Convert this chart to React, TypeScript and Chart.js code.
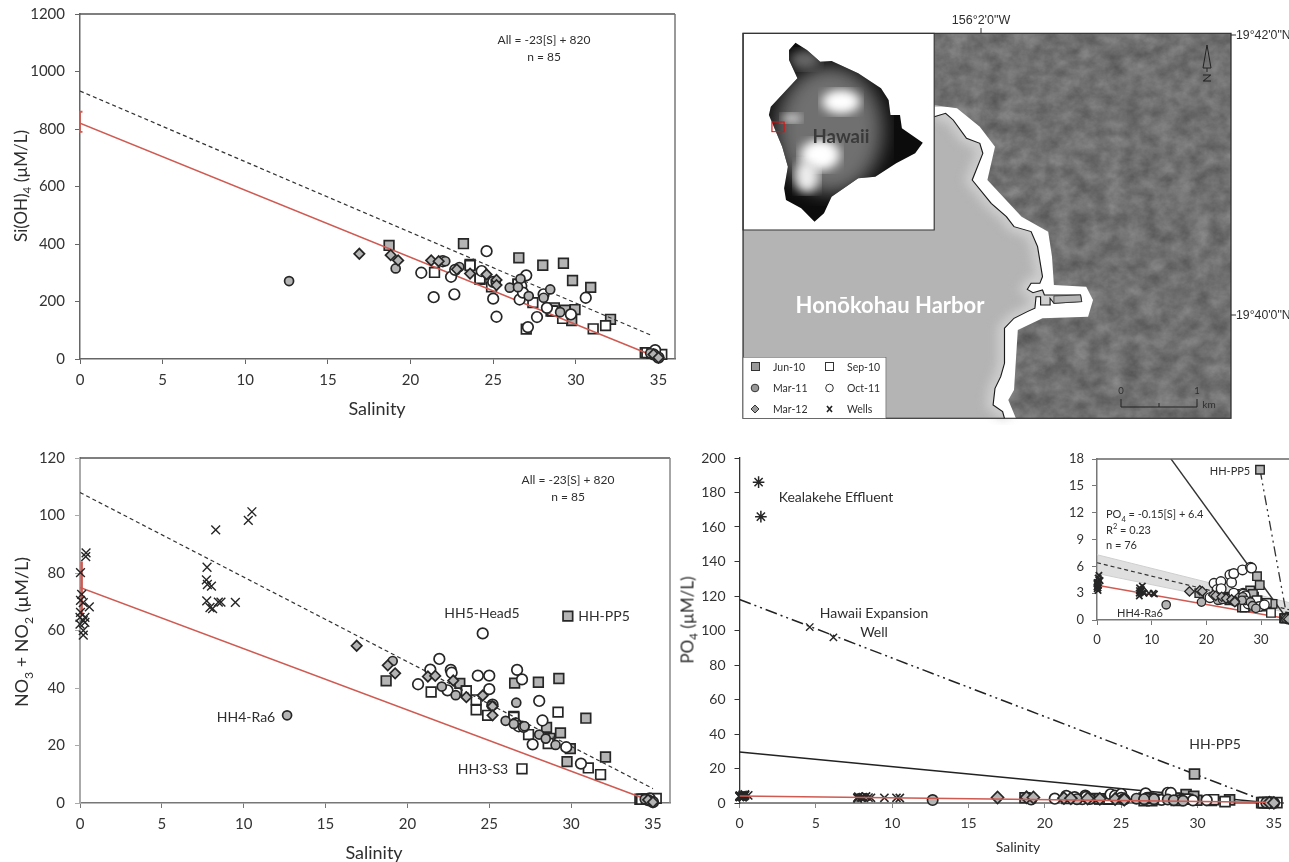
import React, { useEffect, useRef } from "react";
import { Chart, registerables } from "chart.js";

Chart.register(...registerables);

// ---------- samples ----------
const jun10Sal = [18.7, 23.2, 23.6, 26.55, 28.0, 29.25, 29.8, 30.9, 32.1, 29.95, 29.75, 28.7, 28.5, 29.35, 26.5, 34.2, 34.4];
const jun10Si = [395, 401, 329, 352, 326, 333, 273, 249, 138, 172, 134, 178, 167, 170, 260, 22, 22];
const jun10No = [42.5, 41.6, 39, 41.7, 42, 43.3, 65, 29.5, 16, 18.9, 14.4, 22.5, 26.3, 24.4, 30.1, 1.3, 1.3];
const jun10Po = [3, 2.6, 2.5, 2.3, 3.3, 4.9, 16.8, 1.5, 1.8, 1.6, 3.9, 2.6, 2.9, 2.2, 1.4, 0.2, 0.2];

const sep10Sal = [21.45, 24.2, 23.6, 24.9, 24.2, 27.4, 27, 29.2, 31.05, 31.8, 28.6, 26.5, 35.2, 34.3, 34.6];
const sep10Si = [301, 277, 325, 251, 280, 196, 104, 141, 105, 116, 167, 260, 16, 22, 20];
const sep10No = [38.6, 35.9, 39, 30.5, 32.4, 23.8, 11.9, 31.6, 12.2, 9.9, 20.7, 29.8, 1.6, 1.3, 1.4];
const sep10Po = [2.6, 2.2, 2.4, 2.3, 2.4, 2.1, 1.4, 2.2, 1.9, 0.8, 1.5, 2.9, 0.2, 0.2, 0.2];

const mar11Sal = [12.65, 19.1, 22.1, 22.95, 26.0, 26.65, 27.15, 28.05, 28.45, 29.05, 26.5, 25.15, 34.5];
const mar11Si = [271, 315, 340, 320, 248, 279, 219, 213, 242, 163, 250, 268, 20];
const mar11No = [30.5, 49.4, 40.5, 37.5, 28.6, 34.9, 26.7, 23.8, 22.4, 20.2, 27.5, 33.9, 1.3];
const mar11Po = [1.7, 2, 2.2, 2.3, 2.5, 2.6, 2.2, 2, 1.6, 1.3, 2.2, 2.1, 0.2];

const mar12Sal = [16.9, 18.8, 19.25, 21.25, 21.7, 22.8, 23.6, 24.6, 25.2, 25.2, 34.7, 35.0];
const mar12Si = [366, 361, 343, 343, 340, 312, 297, 294, 275, 257, 16, 5];
const mar12No = [54.7, 47.9, 45.1, 44, 44.2, 42.6, 36.8, 37.4, 33.6, 30.5, 1.1, 0.3];
const mar12Po = [3.2, 3.3, 3.2, 2.8, 2.7, 2.6, 2.4, 2.3, 2.1, 2, 0.2, 0.1];

const oct11Sal = [20.65, 21.4, 21.95, 22.45, 22.65, 22.7, 24.3, 24.6, 25, 25, 25.2, 26.6, 26.7, 26.8, 27, 27.1, 27.65, 28.05, 28.25, 29.7, 30.6, 34.8, 35, 34.7];
const oct11Si = [300, 215, 340, 286, 225, 310, 306, 375, 210, 268, 147, 207, 254, 231, 291, 111, 146, 225, 178, 155, 213, 31, 5, 16];
const oct11No = [41.3, 46.4, 50.1, 39.2, 46.3, 45.3, 44.3, 59, 44.3, 39.6, 34.2, 27.7, 46.3, 26.7, 43, 26.5, 20.4, 35.5, 28.7, 19.4, 13.7, 1.6, 0.3, 1];
const oct11Po = [2.5, 4.1, 3.4, 2.3, 4.3, 3.5, 5.05, 4.2, 5.2, 3, 2.1, 5.6, 3, 2.9, 2.6, 2.7, 1.8, 5.9, 5.8, 1.5, 1.7, 0.3, 0.1, 0.2];

const wellsSal = [0.37, 0.35, 0.03, 0.1, 0.03, 0.2, 0.57, 0.03, 0, 0.3, 0.2, 0, 0.3, 0.2, 0.2, 8.29, 10.28, 10.5, 7.76, 7.72, 7.78, 8.03, 7.74, 7.94, 8.1, 8.45, 8.61, 9.49];
const wellsNo = [87, 85.7, 80.1, 72.6, 70.5, 69.7, 68.2, 66.3, 64.6, 64.6, 63.4, 62.2, 62.8, 60, 58.4, 95, 98.3, 101.3, 82, 77.6, 76, 75.4, 70.3, 68, 67.6, 69.9, 69.9, 69.8];
const wellsPo = [4.5, 5, 4.2, 3.8, 4, 3.6, 4.4, 3.5, 4.1, 3.9, 4.7, 3.7, 4.2, 3.3, 3.9, 3.8, 3, 2.9, 3.3, 3, 3.6, 3.2, 2.7, 3.1, 3.4, 3.1, 3, 3];

const effluentSal = [1.25, 1.4];
const effluentPo = [186, 166];
const expansionSal = [4.6, 6.15];
const expansionPo = [102, 96];

// ---------- mixing lines ----------
const siRedSal = [0, 34.3];
const siRedVal = [820, 20];
const siDashSal = [0, 34.5];
const siDashVal = [932, 84];
const siBarSal = [0.15, 0, 0, 0.15];
const siBarVal = [860, 860, 790, 790];

const noRedSal = [0, 34.5];
const noRedVal = [75, 1.5];
const noDashSal = [0, 35];
const noDashVal = [108, 5];
const noBarSal = [0.1, 0.1];
const noBarVal = [65, 84];

const poRedSal = [0, 34.5];
const poRedVal = [4, 0.4];
const poSolidSal = [0, 34.3];
const poSolidVal = [29.5, 0.5];
const poDotSal = [0, 34.6];
const poDotVal = [118, 0.5];

const inRedSal = [0, 34.3];
const inRedVal = [3.9, 0.2];
const inSolidSal = [13.3, 34.3];
const inSolidVal = [18.2, 0.5];
const inDotSal = [29.8, 34.7];
const inDotVal = [16.8, 0.4];
const inDashSal = [0, 35.1];
const inDashVal = [6.4, 1.15];
const inBandSal = [0, 35.1];
const inBandHigh = [7.3, 1.95];
const inBandLow = [5.2, 0.8];

// ---------- chart helpers ----------
const FONT = "Lato, 'Open Sans', sans-serif";
const GREY = "#b4b4b4";
const INK = "#262626";
const RED = "#cf5a52";

const zip = (xs: number[], ys: number[]) => xs.map((x, i) => ({ x, y: ys[i] }));

const points = (xs: number[], ys: number[], pointStyle: string, fill: string, radius: number, width = 1.7) => ({
  type: "scatter",
  data: zip(xs, ys),
  pointStyle,
  pointRadius: radius,
  backgroundColor: fill,
  borderColor: INK,
  borderWidth: width,
  showLine: false,
  clip: false,
});

const line = (xs: number[], ys: number[], color: string, width: number, dash: number[] = [], extra: any = {}) => ({
  type: "line",
  data: zip(xs, ys),
  borderColor: color,
  borderWidth: width,
  borderDash: dash,
  pointRadius: 0,
  fill: false,
  tension: 0,
  ...extra,
});

const frame = (top: string | null, right: string | null, w = 1.5) => ({
  id: "frame",
  afterDraw(chart: any) {
    const { ctx, chartArea: a } = chart;
    ctx.save();
    ctx.lineWidth = w;
    if (top) {
      ctx.strokeStyle = top;
      ctx.beginPath();
      ctx.moveTo(a.left, a.top);
      ctx.lineTo(a.right, a.top);
      ctx.stroke();
    }
    if (right) {
      ctx.strokeStyle = right;
      ctx.beginPath();
      ctx.moveTo(a.right, a.top);
      ctx.lineTo(a.right, a.bottom);
      ctx.stroke();
    }
    ctx.restore();
  },
});

type PanelProps = {
  left: number;
  top: number;
  width: number;
  height: number;
  areaLeft: number;
  areaTop: number;
  areaRight: number;
  areaBottom: number;
  xMax: number;
  xStep: number;
  yMax: number;
  yStep: number;
  fontSize: number;
  leftColor: string;
  leftWidth: number;
  bottomColor: string;
  bottomWidth: number;
  topColor?: string | null;
  rightColor?: string | null;
  xPad: number;
  yPad: number;
  datasets: any[];
};

function Panel(p: PanelProps) {
  const ref = useRef<HTMLCanvasElement | null>(null);
  useEffect(() => {
    if (!ref.current) return;
    const n = p.datasets.length;
    const chart = new Chart(ref.current, {
      type: "scatter",
      data: { datasets: p.datasets.map((d, i) => ({ ...d, order: n - i })) },
      plugins: [frame(p.topColor ?? null, p.rightColor ?? null)],
      options: {
        animation: false,
        responsive: false,
        maintainAspectRatio: false,
        layout: {
          autoPadding: false,
          padding: { top: p.areaTop, right: p.width - p.areaRight, left: 0, bottom: 0 },
        },
        plugins: { legend: { display: false }, tooltip: { enabled: false } },
        scales: {
          x: {
            type: "linear",
            min: 0,
            max: p.xMax,
            afterFit: (s: any) => {
              s.height = p.height - p.areaBottom;
            },
            border: { color: p.bottomColor, width: p.bottomWidth },
            grid: { drawOnChartArea: false, drawTicks: true, tickLength: 5, color: p.bottomColor },
            ticks: {
              stepSize: p.xStep,
              includeBounds: false,
              autoSkip: false,
              maxRotation: 0,
              color: "#333",
              padding: p.xPad,
              font: { family: FONT, size: p.fontSize },
              callback: (v: any) => String(v),
            },
          },
          y: {
            type: "linear",
            min: 0,
            max: p.yMax,
            afterFit: (s: any) => {
              s.width = p.areaLeft;
            },
            border: { color: p.leftColor, width: p.leftWidth },
            grid: { drawOnChartArea: false, drawTicks: true, tickLength: 5, color: p.leftColor },
            ticks: {
              stepSize: p.yStep,
              includeBounds: false,
              autoSkip: false,
              color: "#333",
              padding: p.yPad,
              font: { family: FONT, size: p.fontSize },
              callback: (v: any) => String(v),
            },
          },
        },
      } as any,
    } as any);
    return () => chart.destroy();
  }, []);
  return (
    <canvas
      ref={ref}
      width={p.width}
      height={p.height}
      style={{ position: "absolute", left: p.left, top: p.top, width: p.width, height: p.height }}
    />
  );
}

// ---------- text ----------
function T(props: {
  x: number;
  y: number;
  size: number;
  children: React.ReactNode;
  rotate?: boolean;
  left?: boolean;
  color?: string;
  bold?: boolean;
  family?: string;
}) {
  const { x, y, size, children, rotate, left, color, bold, family } = props;
  const tf = rotate ? "translate(-50%,-50%) rotate(-90deg)" : left ? "translate(0,-50%)" : "translate(-50%,-50%)";
  return (
    <div
      style={{
        position: "absolute",
        left: x,
        top: y,
        transform: tf,
        whiteSpace: "nowrap",
        fontFamily: family || FONT,
        fontSize: size,
        lineHeight: 1,
        fontWeight: bold ? 700 : 400,
        color: color || "#2e2e2e",
      }}
    >
      {children}
    </div>
  );
}

const Sub = ({ c }: { c: string }) => <sub style={{ fontSize: "0.68em", lineHeight: 0 }}>{c}</sub>;
const Sup = ({ c }: { c: string }) => <sup style={{ fontSize: "0.68em", lineHeight: 0 }}>{c}</sup>;

// ---------- map artwork (coordinates in the map's own drawing space) ----------
const landEdge =
  "640,100 1421,100 1421,1255 855,1255 835,1200 850,1170 860,990 925,955 1045,950 1058,900 1040,860 955,855 950,770 940,695 870,650 780,540 800,440 760,380 700,325 640,315";
const coast =
  "640,350 670,340 690,360 725,415 760,430 768,460 740,540 790,610 830,650 850,680 895,695 912,740 925,830 918,850 895,850 885,868 900,878 925,870 930,885 1025,885 1028,905 955,910 945,895 945,915 920,915 920,890 908,890 905,925 885,935 850,955 825,985 825,1090 815,1130 800,1165 795,1215 820,1235 825,1255";
const coastFill = coast + " 1421,1255 1421,320 640,320";
const island =
  "258,150 275,128 305,150 340,185 370,183 440,220 500,265 520,300 525,345 550,345 555,385 610,428 590,460 540,490 485,530 440,535 370,590 350,640 325,665 290,625 250,600 245,565 255,500 240,440 205,345 210,320 280,235 258,180";

function MapArt() {
  return (
    <svg width={599} height={425} style={{ position: "absolute", left: 690, top: 0 }}>
      <defs>
        <filter id="grain" x="0" y="0" width="100%" height="100%" colorInterpolationFilters="sRGB">
          <feTurbulence type="fractalNoise" baseFrequency="0.022 0.022" numOctaves={4} seed={11} result="n" />
          <feColorMatrix
            in="n"
            type="matrix"
            values="0.24 0 0 0 0.32  0.24 0 0 0 0.32  0.24 0 0 0 0.32  0 0 0 0 1"
            result="g"
          />
          <feComposite in="g" in2="SourceGraphic" operator="in" />
        </filter>
        <filter id="soft" colorInterpolationFilters="sRGB">
          <feGaussianBlur stdDeviation="26" />
        </filter>
        <filter id="soft2" colorInterpolationFilters="sRGB">
          <feGaussianBlur stdDeviation="14" />
        </filter>
        <clipPath id="isl">
          <polygon points={island} />
        </clipPath>
      </defs>
      <g transform="translate(1,0) scale(0.38,0.3333)">
        <rect x={137} y={100} width={1284} height={1155} fill={GREY} />
        <polyline points={coast} fill="none" stroke="#d0d0d0" strokeWidth={34} filter="url(#soft2)" />
        <polygon points={coastFill} fill="#ffffff" />
        <polygon points={landEdge} fill="#fff" filter="url(#grain)" />
        <polyline points={coast} fill="none" stroke="#1a1a1a" strokeWidth={3} />
        <polygon points="955,888 1025,885 1028,905 955,910" fill={GREY} stroke="#222" strokeWidth={2} />
        <rect x={137} y={100} width={503} height={590} fill="#fff" stroke="#333" strokeWidth={3} />
        <polygon points={island} fill="#0c0c0c" />
        <g clipPath="url(#isl)">
          <ellipse cx={365} cy={390} rx={140} ry={190} fill="#707070" filter="url(#soft)" />
          <ellipse cx={300} cy={180} rx={40} ry={30} fill="#666" filter="url(#soft2)" />
          <ellipse cx={395} cy={305} rx={50} ry={36} fill="#fff" filter="url(#soft2)" />
          <ellipse cx={265} cy={355} rx={26} ry={14} fill="#ddd" filter="url(#soft2)" />
          <ellipse cx={340} cy={465} rx={52} ry={46} fill="#fff" filter="url(#soft2)" />
          <ellipse cx={305} cy={530} rx={32} ry={48} fill="#eee" filter="url(#soft2)" />
        </g>
        <rect x={213} y={366} width={32} height={29} fill="none" stroke="#e01010" strokeWidth={3} />
        <rect x={137} y={100} width={1284} height={1155} fill="none" stroke="#333" strokeWidth={3.5} />
        <rect x={137} y={1072} width={376} height={183} fill="#fff" stroke="#555" strokeWidth={1.5} />
      </g>
      {/* frame ticks */}
      <path d="M291 28V33M541 35H546M541 315H546" stroke="#333" strokeWidth={1} />
      {/* legend markers */}
      <rect x={61.5} y={362.5} width={8} height={8} fill="#999" stroke="#333" strokeWidth={1} />
      <rect x={135.5} y={362.5} width={8} height={8} fill="#fff" stroke="#333" strokeWidth={1} />
      <circle cx={65} cy={388} r={3.8} fill="#999" stroke="#333" strokeWidth={1} />
      <circle cx={139.5} cy={388} r={3.8} fill="#fff" stroke="#333" strokeWidth={1} />
      <path d="M65 405L69 409L65 413L61 409Z" fill="#999" stroke="#333" strokeWidth={1} />
      <path d="M137 406L142 412M142 406L137 412" stroke="#222" strokeWidth={1.6} />
      {/* scale bar */}
      <path d="M431 399V407H507V399M469 403V407" fill="none" stroke="#222" strokeWidth={1} />
      {/* north arrow */}
      <path d="M517 45L513 68H521Z" fill="none" stroke="#222" strokeWidth={1} />
      <path d="M517 68V72" stroke="#222" strokeWidth={1} />
    </svg>
  );
}

// ---------- app ----------
export default function App() {
  const mA = 6.8,
    cA = 4.5,
    dA = 5.2;
  const panelA = [
    line(siBarSal, siBarVal, RED, 1.8, [], { clip: false }),
    points(jun10Sal, jun10Si, "rect", GREY, mA),
    points(sep10Sal, sep10Si, "rect", "#fff", mA),
    line(siRedSal, siRedVal, RED, 1.5),
    line(siDashSal, siDashVal, "#333", 1.2, [4, 3]),
    points(oct11Sal, oct11Si, "circle", "#fff", cA + 0.8),
    points(mar11Sal, mar11Si, "circle", GREY, cA),
    points(mar12Sal, mar12Si, "rectRot", GREY, dA),
  ];
  const panelB = [
    line(noBarSal, noBarVal, RED, 2.5, [], { clip: false }),
    points(jun10Sal, jun10No, "rect", GREY, mA),
    points(sep10Sal, sep10No, "rect", "#fff", mA),
    line(noRedSal, noRedVal, RED, 1.5),
    line(noDashSal, noDashVal, "#333", 1.2, [4, 3]),
    points(oct11Sal, oct11No, "circle", "#fff", cA + 0.8),
    points(mar11Sal, mar11No, "circle", GREY, cA),
    points(mar12Sal, mar12No, "rectRot", GREY, dA),
    points(wellsSal, wellsNo, "crossRot", "#222", 6.2, 1.4),
  ];
  const panelC = [
    line(poSolidSal, poSolidVal, "#222", 1.5),
    line(poDotSal, poDotVal, "#222", 1.5, [12, 4, 2, 4, 2, 4]),
    points(jun10Sal, jun10Po, "rect", GREY, 7),
    points(sep10Sal, sep10Po, "rect", "#fff", 7),
    points(oct11Sal, oct11Po, "circle", "#fff", 5.3),
    points(mar11Sal, mar11Po, "circle", GREY, 5.2),
    points(mar12Sal, mar12Po, "rectRot", GREY, 6),
    points(wellsSal, wellsPo, "crossRot", "#111", 5.8, 1.6),
    points(effluentSal, effluentPo, "star", "#111", 5.8, 1.5),
    points(expansionSal, expansionPo, "crossRot", "#111", 5.2, 1.4),
    line(poRedSal, poRedVal, RED, 1.5),
  ];
  const inset = [
    line(inBandSal, inBandHigh, "#cfcfcf", 1, [], { fill: "+1", backgroundColor: "rgba(175,175,175,0.4)" }),
    line(inBandSal, inBandLow, "#cfcfcf", 1),
    line(inDashSal, inDashVal, "#333", 1.2, [4, 3]),
    line(inRedSal, inRedVal, RED, 1.5),
    line(inSolidSal, inSolidVal, "#333", 1.4),
    line(inDotSal, inDotVal, "#333", 1.3, [10, 4, 2, 4, 2, 4]),
    points(jun10Sal, jun10Po, "rect", GREY, 6, 1.4),
    points(sep10Sal, sep10Po, "rect", "#fff", 6, 1.4),
    points(oct11Sal, oct11Po, "circle", "#fff", 4.8, 1.4),
    points(mar11Sal, mar11Po, "circle", GREY, 4.2, 1.3),
    points(mar12Sal, mar12Po, "rectRot", GREY, 4.7, 1.3),
    points(wellsSal, wellsPo, "crossRot", "#111", 4.5, 1.7),
  ];

  return (
    <div
      style={{
        position: "fixed",
        left: 0,
        top: 0,
        width: 1289,
        height: 862,
        overflow: "hidden",
        background: "#fff",
        filter: "blur(0.35px)",
      }}
    >
      <Panel
        left={0}
        top={-20}
        width={690}
        height={440}
        areaLeft={80}
        areaTop={34}
        areaRight={675}
        areaBottom={379}
        xMax={36}
        xStep={5}
        yMax={1200}
        yStep={200}
        fontSize={15}
        leftColor="#666"
        leftWidth={1.5}
        bottomColor="#666"
        bottomWidth={1.5}
        topColor="#555"
        rightColor="#777"
        xPad={7}
        yPad={10}
        datasets={panelA}
      />
      <Panel
        left={0}
        top={420}
        width={690}
        height={442}
        areaLeft={80}
        areaTop={38}
        areaRight={670}
        areaBottom={383}
        xMax={36.04}
        xStep={5}
        yMax={120}
        yStep={20}
        fontSize={15}
        leftColor="#aaa"
        leftWidth={2}
        bottomColor="#777"
        bottomWidth={1.5}
        topColor="#555"
        rightColor="#888"
        xPad={7}
        yPad={10}
        datasets={panelB}
      />
      <Panel
        left={690}
        top={420}
        width={599}
        height={442}
        areaLeft={49.5}
        areaTop={38}
        areaRight={599}
        areaBottom={383}
        xMax={35.6}
        xStep={5}
        yMax={200}
        yStep={20}
        fontSize={14}
        leftColor="#333"
        leftWidth={1.3}
        bottomColor="#888"
        bottomWidth={2}
        xPad={7}
        yPad={9}
        datasets={panelC}
      />
      <Panel
        left={1060}
        top={428}
        width={229}
        height={220}
        areaLeft={37}
        areaTop={31}
        areaRight={229}
        areaBottom={192}
        xMax={35.1}
        xStep={10}
        yMax={18}
        yStep={3}
        fontSize={13}
        leftColor="#777"
        leftWidth={1.5}
        bottomColor="#777"
        bottomWidth={1.5}
        topColor="#666"
        xPad={7}
        yPad={8}
        datasets={inset}
      />
      <MapArt />

      {/* panel A text */}
      <T x={544} y={40} size={12}>All = -23[S] + 820</T>
      <T x={544} y={57} size={12}>n = 85</T>
      <T x={377} y={408} size={18}>Salinity</T>
      <T x={20} y={186} size={17} rotate>
        Si(OH)<Sub c="4" /> (µM/L)
      </T>

      {/* panel B text */}
      <T x={568} y={480} size={12}>All = -23[S] + 820</T>
      <T x={568} y={497} size={12}>n = 85</T>
      <T x={374} y={852} size={18}>Salinity</T>
      <T x={21} y={632} size={18} rotate>
        NO<Sub c="3" /> + NO<Sub c="2" /> (µM/L)
      </T>
      <T x={482} y={613} size={14}>HH5-Head5</T>
      <T x={604} y={616} size={14}>HH-PP5</T>
      <T x={246} y={717} size={14}>HH4-Ra6</T>
      <T x={483} y={769} size={14}>HH3-S3</T>

      {/* panel C text */}
      <T x={1018} y={847} size={14}>Salinity</T>
      <T x={687} y={620} size={17} rotate>
        PO<Sub c="4" /> (µM/L)
      </T>
      <T x={836} y={497} size={14}>Kealakehe Effluent</T>
      <T x={874} y={613} size={14}>Hawaii Expansion</T>
      <T x={874} y={632} size={14}>Well</T>
      <T x={1215} y={744} size={14}>HH-PP5</T>

      {/* inset text */}
      <T x={1106} y={514} size={11} left>
        PO<Sub c="4" /> = -0.15[S] + 6.4
      </T>
      <T x={1106} y={529} size={11} left>
        R<Sup c="2" /> = 0.23
      </T>
      <T x={1106} y={544} size={11} left>n = 76</T>
      <T x={1230} y={470} size={11}>HH-PP5</T>
      <T x={1140} y={612} size={11}>HH4-Ra6</T>

      {/* map text */}
      <T x={981} y={20} size={12.5} family="'Liberation Sans', sans-serif">156°2'0"W</T>
      <T x={1236} y={35} size={12.3} left family="'Liberation Sans', sans-serif">19°42'0"N</T>
      <T x={1236} y={315} size={12.3} left family="'Liberation Sans', sans-serif">19°40'0"N</T>
      <T x={841} y={136} size={18.5} bold color="#3a3a3a">Hawaii</T>
      <T x={890} y={305} size={22} bold color="#fff">Honōkohau Harbor</T>
      <T x={773} y={367} size={10.5} left>Jun-10</T>
      <T x={773} y={388} size={10.5} left>Mar-11</T>
      <T x={773} y={409} size={10.5} left>Mar-12</T>
      <T x={847} y={367} size={10.5} left>Sep-10</T>
      <T x={847} y={388} size={10.5} left>Oct-11</T>
      <T x={847} y={409} size={10.5} left>Wells</T>
      <T x={1121} y={391} size={9.5}>0</T>
      <T x={1197} y={391} size={9.5}>1</T>
      <T x={1209} y={404} size={10}>km</T>
      <T x={1207} y={78} size={12} color="#222" rotate>N</T>
    </div>
  );
}
